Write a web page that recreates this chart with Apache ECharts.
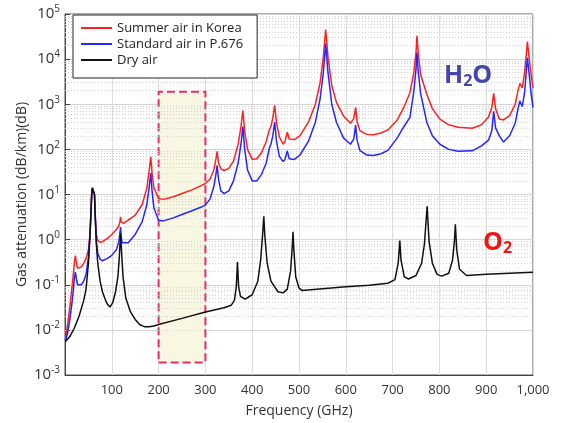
<!DOCTYPE html>
<html><head><meta charset="utf-8">
<script src="https://cdn.jsdelivr.net/npm/echarts@6/dist/echarts.min.js"></script>
<style>html,body{margin:0;padding:0;background:#fff}#c{width:562px;height:423px}</style>
</head><body><div id="c"></div>
<script>
const seriesNames = ['Summer air in Korea', 'Standard air in P.676', 'Dry air'];
const xTicks = [100,200,300,400,500,600,700,800,900,1000];
const yDecades = [-3,-2,-1,0,1,2,3,4,5];

const redFreq = [1,5,10,15,18,20,22.2,24,27,30,35,40,45,50,53,55,57,58.5,60,61,63,65,67,70,75,80,90,100,110,115,117,118.75,120,122,125,135,150,165,175,180,183.3,186,190,200,210,230,250,270,290,300,310,318,323,325,328,333,340,350,360,370,376,380,384,390,400,404,410,420,430,437,440,444,448,452,458,466,470,475,479,490,502,520,535,545,552,557,562,570,580,595,610,617,621,624,630,645,659,675,690,710,725,737,745,750,752,755,760,773,785,801,820,840,870,890,905,912,916,920,928,937,950,962,968,972,977,982,986,988,992,996,1000];
const redVal = [0.006,0.012,0.03,0.09,0.18,0.3,0.44,0.32,0.23,0.22,0.25,0.3,0.38,0.6,1.2,3,10,14,15.5,15,10,3,1.3,0.95,0.87,0.9,1.05,1.3,1.7,2.0,2.4,3.2,2.5,2.3,2.3,2.7,3.5,6,14,35,68,30,14,8.2,7.8,8.8,10.5,12.5,15.5,17.5,22,35,65,90,50,37,34,38,55,130,320,720,250,100,60,57,62,85,150,280,320,500,950,380,190,130,150,240,170,165,200,400,1000,3000,11000,45000,11000,2600,1100,550,380,480,850,420,260,215,210,230,270,450,900,1800,4800,14000,33000,13000,4500,1660,800,470,350,310,295,350,520,850,1750,800,470,450,560,1000,2000,2900,2300,5000,14000,24500,10000,4500,2300];

const blueFreq = [1,5,10,15,18,20,22.2,24,27,30,35,40,45,50,53,55,57,58.5,60,61,63,65,67,70,75,80,90,100,110,115,117,118.75,120,122,125,135,150,165,175,180,183.3,186,190,200,210,230,250,270,290,300,310,318,323,325,328,333,340,350,360,370,376,380,384,390,400,410,420,430,437,440,444,448,452,458,466,470,475,479,490,502,520,535,545,552,557,562,570,580,595,610,617,621,624,630,645,659,675,690,710,725,737,745,750,752,755,760,773,785,801,820,840,870,890,905,912,916,920,928,937,950,962,968,972,977,982,986,988,992,996,1000];
const blueVal = [0.0058,0.008,0.016,0.04,0.08,0.14,0.19,0.14,0.1,0.093,0.1,0.12,0.17,0.4,1.1,3,10,14,15,14.5,10,2.7,0.9,0.5,0.37,0.34,0.38,0.45,0.6,0.9,1.3,1.9,1.2,0.85,0.77,0.85,1.3,2.5,6,15,30,12,5,2.7,2.6,3.0,3.6,4.3,5.2,5.8,8,15,30,44,22,12,10.5,12,20,50,130,320,100,35,20,20,28,50,110,130,200,400,150,70,54,60,93,62,60,75,150,400,1300,5000,22000,5000,1000,400,180,130,170,345,160,95,75,73,80,95,180,330,510,1800,6000,14000,5000,1700,400,200,130,100,91,93,120,160,260,700,300,200,145,200,380,800,1180,890,1800,6000,10700,4500,1700,850];

const dryFreq = [1,5,10,20,30,40,45,50,53,55,57,58.5,60,61,63,65,67,70,75,80,85,90,96,102,108,113,116,118.75,121,124,130,140,150,160,170,180,190,200,250,300,340,355,362,366,368.5,371,375,385,400,412,418,422,424.8,427,432,440,455,466,475,482,486,487.2,489,493,500,506,550,600,650,690,705,712,715.4,718,725,734,750,762,768,773.8,778,785,795,805,820,828,832,834.1,837,843,858,900,950,1000];
const dryVal = [0.0055,0.006,0.007,0.011,0.02,0.045,0.08,0.3,1.0,3,10,14,15,14.5,10,2.5,0.8,0.3,0.12,0.07,0.05,0.038,0.032,0.04,0.07,0.15,0.4,1.35,0.5,0.15,0.05,0.025,0.017,0.013,0.0118,0.0117,0.0122,0.0132,0.018,0.025,0.031,0.035,0.045,0.09,0.32,0.09,0.055,0.048,0.06,0.12,0.35,1.2,3.3,1.2,0.3,0.12,0.07,0.066,0.08,0.2,0.8,1.5,0.6,0.15,0.085,0.075,0.082,0.09,0.097,0.108,0.13,0.3,0.95,0.35,0.15,0.134,0.16,0.3,0.8,5.5,0.9,0.3,0.17,0.155,0.18,0.35,0.9,2.2,0.6,0.22,0.16,0.17,0.18,0.19];

const bandRange = [200, 300];
const bandVal = [0.0019, 1900];

function zip(a, b) { return a.map((v, i) => [v, b[i]]); }

const minorLines = [];
yDecades.slice(0, -1).forEach(d => {
  for (let k = 2; k <= 9; k++) minorLines.push({ yAxis: k * Math.pow(10, d) });
});

const FONT = 'Open Sans';
const chart = echarts.init(document.getElementById('c'), null, { renderer: 'canvas' });
chart.setOption({
  animation: false,
  backgroundColor: '#fff',
  grid: { left: 65, right: 29, top: 14, bottom: 45, show: true, borderColor: '#555', borderWidth: 1, backgroundColor: 'transparent' },
  legend: {
    data: seriesNames, orient: 'vertical', left: 73, top: 15, z: 50,
    backgroundColor: '#fff', borderColor: '#222', borderWidth: 1,
    padding: [5, 14, 10, 8], itemWidth: 31, itemHeight: 2, itemGap: 0, icon: 'rect',
    textStyle: { fontFamily: FONT, fontSize: 13, color: '#222', lineHeight: 16 }
  },
  xAxis: {
    type: 'value', min: 0, max: 1000, interval: 100,
    name: 'Frequency (GHz)', nameLocation: 'middle', nameGap: 29,
    nameTextStyle: { fontFamily: FONT, fontSize: 14, color: '#333' },
    axisLine: { lineStyle: { color: '#444' } },
    axisTick: { show: false },
    axisLabel: { fontFamily: FONT, fontSize: 13, color: '#333', margin: 9,
      formatter: v => v === 0 ? '' : v.toLocaleString('en-US') },
    splitLine: { show: true, lineStyle: { color: '#dcdcdc', width: 1 } }
  },
  yAxis: {
    type: 'log', logBase: 10, min: 1e-3, max: 1e5, interval: 1,
    name: 'Gas attenuation (dB/km)(dB)', nameLocation: 'middle', nameGap: 36,
    nameMoveOverlap: false,
    nameTextStyle: { fontFamily: FONT, fontSize: 14, color: '#333' },
    axisLine: { lineStyle: { color: '#444' } },
    axisTick: { show: true, inside: true, length: 5, lineStyle: { color: '#444' } },
    axisLabel: { fontFamily: FONT, fontSize: 15, color: '#333', margin: 5,
      formatter: v => '10{s|' + Math.round(Math.log10(v)) + '}',
      rich: { s: { fontFamily: FONT, fontSize: 10, color: '#333', padding: [0, 0, 9, 0] } } },
    splitLine: { show: true, lineStyle: { color: '#d4d4d4', width: 1 } }
  },
  graphic: [
    { type: 'text', left: 444, top: 63, z: 100,
      style: { text: 'H{b|2}O', fill: '#4646a8', font: 'bold 25px ' + FONT,
        rich: { b: { fontFamily: FONT, fontWeight: 'bold', fontSize: 16, fill: '#4646a8', padding: [12, 0, 0, 0] } } } },
    { type: 'text', left: 483, top: 230, z: 100,
      style: { text: 'O{b|2}', fill: '#f01515', font: 'bold 25px ' + FONT,
        rich: { b: { fontFamily: FONT, fontWeight: 'bold', fontSize: 16, fill: '#f01515', padding: [12, 0, 0, 0] } } } }
  ],
  series: [
    { name: 'band', type: 'line', data: [], silent: true, z: 1,
      markArea: { silent: true,
        itemStyle: { color: '#f8f8e2', borderColor: '#ec2a6a', borderWidth: 2, borderType: 'dashed' },
        data: [[{ xAxis: bandRange[0], yAxis: bandVal[0] }, { xAxis: bandRange[1], yAxis: bandVal[1] }]] } },
    { name: 'grid-minor', type: 'line', data: [], silent: true, z: 2,
      markLine: { silent: true, symbol: ['none', 'none'], label: { show: false },
        lineStyle: { type: [1, 2], color: '#d0d0d0', width: 1 }, data: minorLines } },
    { name: seriesNames[0], type: 'line', data: zip(redFreq, redVal), symbol: 'none', z: 10,
      color: '#ff2020', lineStyle: { width: 1.5, color: '#ff2020' } },
    { name: seriesNames[1], type: 'line', data: zip(blueFreq, blueVal), symbol: 'none', z: 10,
      color: '#2525ff', lineStyle: { width: 1.5, color: '#2525ff' } },
    { name: seriesNames[2], type: 'line', data: zip(dryFreq, dryVal), symbol: 'none', z: 11,
      color: '#111', lineStyle: { width: 1.5, color: '#111' } }
  ]
});
</script>
</body></html>
